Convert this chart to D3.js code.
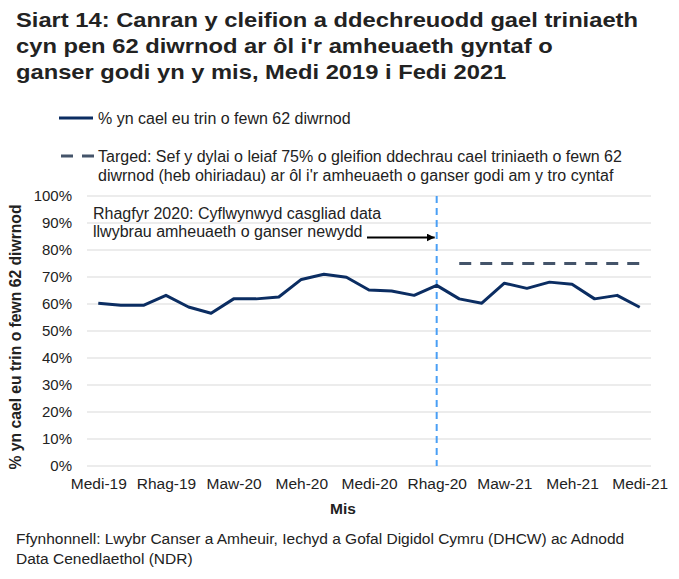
<!DOCTYPE html>
<html>
<head>
<meta charset="utf-8">
<script src="https://cdn.jsdelivr.net/npm/d3@7"></script>
<style>
  body { margin: 0; background: #fff; }
  text { font-family: "Liberation Sans", Arial, sans-serif; }
</style>
</head>
<body>
<script>
// months Medi 2019 - Medi 2021
const months = ["Medi-19","Hyd-19","Tach-19","Rhag-19","Ion-20","Chwef-20","Maw-20","Ebr-20","Mai-20",
  "Meh-20","Gorff-20","Awst-20","Medi-20","Hyd-20","Tach-20","Rhag-20","Ion-21","Chwef-21","Maw-21",
  "Ebr-21","Mai-21","Meh-21","Gorff-21","Awst-21","Medi-21"];
const within62 = [60.3, 59.5, 59.5, 63.2, 58.9, 56.6, 61.9, 61.9, 62.6, 69.1, 71.0, 69.9, 65.2,
  64.8, 63.2, 66.9, 61.9, 60.3, 67.7, 65.8, 68.1, 67.3, 61.9, 63.2, 58.8];
// target only drawn from Ion-21 onwards
const targetMonths = months.slice(16);
const targetValue = 75;
const yTicks = [0,10,20,30,40,50,60,70,80,90,100];
const xTickLabels = ["Medi-19","Rhag-19","Maw-20","Meh-20","Medi-20","Rhag-20","Maw-21","Meh-21","Medi-21"];
const markerMonth = "Rhag-20";

const width = 679, height = 579;
const svg = d3.select("body").append("svg")
  .attr("width", width)
  .attr("height", height);

// title (the original is a bit wide-set, so stretch it sideways)
const titleLines = ["Siart 14: Canran y cleifion a ddechreuodd gael triniaeth",
  "cyn pen 62 diwrnod ar ôl i'r amheuaeth gyntaf o",
  "ganser godi yn y mis, Medi 2019 i Fedi 2021"];
svg.append("g").attr("transform", "translate(16,0) scale(1.13,1)")
  .selectAll("text").data(titleLines).enter().append("text")
  .attr("x", 0).attr("y", (d, i) => 27 + i * 26)
  .attr("font-size", 21).attr("font-weight", "bold").attr("fill", "#222")
  .text(d => d);

// legend
const legend = svg.append("g");
legend.append("line").attr("x1", 59).attr("x2", 93).attr("y1", 118).attr("y2", 118)
  .attr("stroke", "#0b2d62").attr("stroke-width", 3);
legend.append("text").attr("x", 98).attr("y", 123.5).attr("font-size", 16).attr("fill", "#222")
  .text("% yn cael eu trin o fewn 62 diwrnod");
legend.append("line").attr("x1", 61).attr("x2", 94).attr("y1", 156).attr("y2", 156)
  .attr("stroke", "#44546a").attr("stroke-width", 3).attr("stroke-dasharray", "12,9");
legend.append("text").attr("x", 98).attr("y", 162).attr("font-size", 16).attr("fill", "#222")
  .text("Targed: Sef y dylai o leiaf 75% o gleifion ddechrau cael triniaeth o fewn 62");
legend.append("text").attr("x", 98).attr("y", 180.5).attr("font-size", 16).attr("fill", "#222")
  .text("diwrnod (heb ohiriadau) ar ôl i'r amheuaeth o ganser godi am y tro cyntaf");

// scales
const x = d3.scalePoint().domain(months).range([87, 651]).padding(0.5);
const y = d3.scaleLinear().domain([0, 100]).range([466, 196]);

// gridlines
svg.append("g").selectAll("line").data(yTicks).enter().append("line")
  .attr("x1", 87).attr("x2", 651)
  .attr("y1", d => y(d)).attr("y2", d => y(d))
  .attr("stroke", "#d9d9d9").attr("stroke-width", 1);

// y axis
const yAxis = svg.append("g").attr("transform", "translate(87,0)")
  .call(d3.axisLeft(y).tickValues(yTicks).tickFormat(d => d + "%").tickSize(0).tickPadding(15));
yAxis.select(".domain").remove();
yAxis.selectAll("text").attr("font-size", 15).attr("fill", "#222")
  .attr("font-family", "Liberation Sans, Arial, sans-serif");

// x axis
const xAxis = svg.append("g").attr("transform", "translate(0,466)")
  .call(d3.axisBottom(x).tickValues(xTickLabels).tickSize(0).tickPadding(12));
xAxis.select(".domain").remove();
xAxis.selectAll("text").attr("font-size", 15.5).attr("fill", "#222")
  .attr("font-family", "Liberation Sans, Arial, sans-serif");

// axis titles
svg.append("text").attr("x", 343).attr("y", 514).attr("text-anchor", "middle")
  .attr("font-size", 15.5).attr("font-weight", "bold").attr("fill", "#222").text("Mis");
svg.append("text")
  .attr("transform", "translate(21,337) rotate(-90)")
  .attr("text-anchor", "middle").attr("font-size", 15.7).attr("font-weight", "bold").attr("fill", "#222")
  .text("% yn cael eu trin o fewn 62 diwrnod");

// vertical marker line
svg.append("line")
  .attr("x1", x(markerMonth)).attr("x2", x(markerMonth))
  .attr("y1", y(100)).attr("y2", y(0))
  .attr("stroke", "#4a9ff5").attr("stroke-width", 2).attr("stroke-dasharray", "7,5");

// target
svg.append("path")
  .datum(targetMonths)
  .attr("fill", "none").attr("stroke", "#44546a").attr("stroke-width", 3)
  .attr("stroke-dasharray", "12,9")
  .attr("d", d3.line().x(d => x(d)).y(() => y(targetValue)));

// main series
svg.append("path")
  .datum(within62)
  .attr("fill", "none").attr("stroke", "#0b2d62").attr("stroke-width", 3)
  .attr("stroke-linejoin", "round")
  .attr("d", d3.line().x((d, i) => x(months[i])).y(d => y(d)));

// annotation
svg.append("text").attr("x", 93).attr("y", 219).attr("font-size", 16).attr("fill", "#222")
  .text("Rhagfyr 2020: Cyflwynwyd casgliad data");
svg.append("text").attr("x", 93).attr("y", 237).attr("font-size", 16).attr("fill", "#222")
  .text("llwybrau amheuaeth o ganser newydd");
const defs = svg.append("defs");
defs.append("marker").attr("id", "arrow").attr("viewBox", "0 0 10 10")
  .attr("refX", 10).attr("refY", 5).attr("markerWidth", 4).attr("markerHeight", 4)
  .attr("orient", "auto")
  .append("path").attr("d", "M0,0L10,5L0,10z").attr("fill", "#000");
svg.append("line").attr("x1", 367).attr("x2", x(markerMonth) - 2)
  .attr("y1", 237.5).attr("y2", 237.5)
  .attr("stroke", "#000").attr("stroke-width", 2).attr("marker-end", "url(#arrow)");

// source
svg.append("text").attr("x", 16).attr("y", 544).attr("font-size", 15.5).attr("fill", "#222")
  .text("Ffynhonnell: Lwybr Canser a Amheuir, Iechyd a Gofal Digidol Cymru (DHCW) ac Adnodd");
svg.append("text").attr("x", 16).attr("y", 564).attr("font-size", 15.5).attr("fill", "#222")
  .text("Data Cenedlaethol (NDR)");
</script>
</body>
</html>
